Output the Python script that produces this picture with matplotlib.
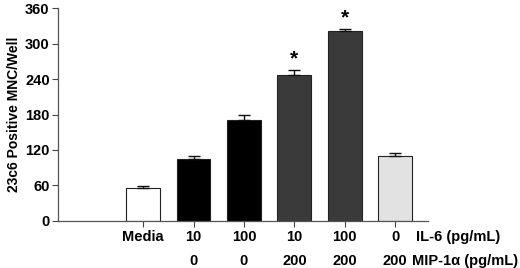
import matplotlib
matplotlib.use("Agg")
import matplotlib.pyplot as plt
from matplotlib.transforms import blended_transform_factory

# ---------- Data ----------
group_labels = ["Media", "10", "100", "10", "100", "0"]
mip_labels = ["", "0", "0", "200", "200", "200"]
means = [56, 105, 171, 247, 322, 109]
errors = [2, 4, 8, 9, 3, 5]
significant = [False, False, False, True, True, False]
bar_colors = ["#ffffff", "#000000", "#000000", "#3a3a3a", "#3a3a3a", "#e2e2e2"]
yticks = [0, 60, 120, 180, 240, 300, 360]

plt.rcParams["font.family"] = ["Liberation Sans", "DejaVu Sans"]
plt.rcParams["font.weight"] = "bold"

fig = plt.figure(figsize=(5.2, 2.68), dpi=100)
ax = fig.add_axes([0.1115, 0.1765, 0.7115, 0.7925])

x = list(range(len(means)))
ax.bar(x, means, width=0.67, color=bar_colors, edgecolor="#222222", linewidth=0.8, zorder=2)
ax.errorbar(x, means, yerr=[[0] * len(errors), errors], fmt="none",
            ecolor="#111111", elinewidth=1.0, capsize=4, capthick=1.0, zorder=3)

for xi, m, e, sig in zip(x, means, errors, significant):
    if sig:
        ax.annotate("*", (xi, m + e), xytext=(0, 1), textcoords="offset points",
                    ha="center", va="bottom", fontsize=15, fontweight="bold")

ax.set_xlim(-1.69, 5.65)
ax.set_ylim(0, 360)
ax.set_yticks(yticks)
ax.set_yticklabels([str(t) for t in yticks], fontsize=10.5, fontweight="bold")
ax.set_ylabel("23c6 Positive MNC/Well", fontsize=10, fontweight="bold", labelpad=3)

ax.set_xticks(x)
ax.set_xticklabels([])
ax.tick_params(axis="x", direction="out", length=4, width=0.8, color="#444444")
ax.tick_params(axis="y", direction="out", length=4, width=0.8, color="#444444", pad=2)

for side in ["top", "right"]:
    ax.spines[side].set_visible(False)
for side in ["left", "bottom"]:
    ax.spines[side].set_color("#555555")
    ax.spines[side].set_linewidth(0.9)

trans = blended_transform_factory(ax.transData, ax.transAxes)
for xi, lab, mip in zip(x, group_labels, mip_labels):
    ax.text(xi, -0.075, lab, transform=trans, ha="center", va="center",
            fontsize=10.5, fontweight="bold")
    if mip:
        ax.text(xi, -0.19, mip, transform=trans, ha="center", va="center",
                fontsize=10.5, fontweight="bold")

ax.text(5.42, -0.075, "IL-6 (pg/mL)", transform=trans, ha="left", va="center",
        fontsize=10.5, fontweight="bold", clip_on=False)
ax.text(5.33, -0.19, "MIP-1α (pg/mL)", transform=trans, ha="left", va="center",
        fontsize=10.5, fontweight="bold", clip_on=False)

fig.savefig("out.png", dpi=100)
